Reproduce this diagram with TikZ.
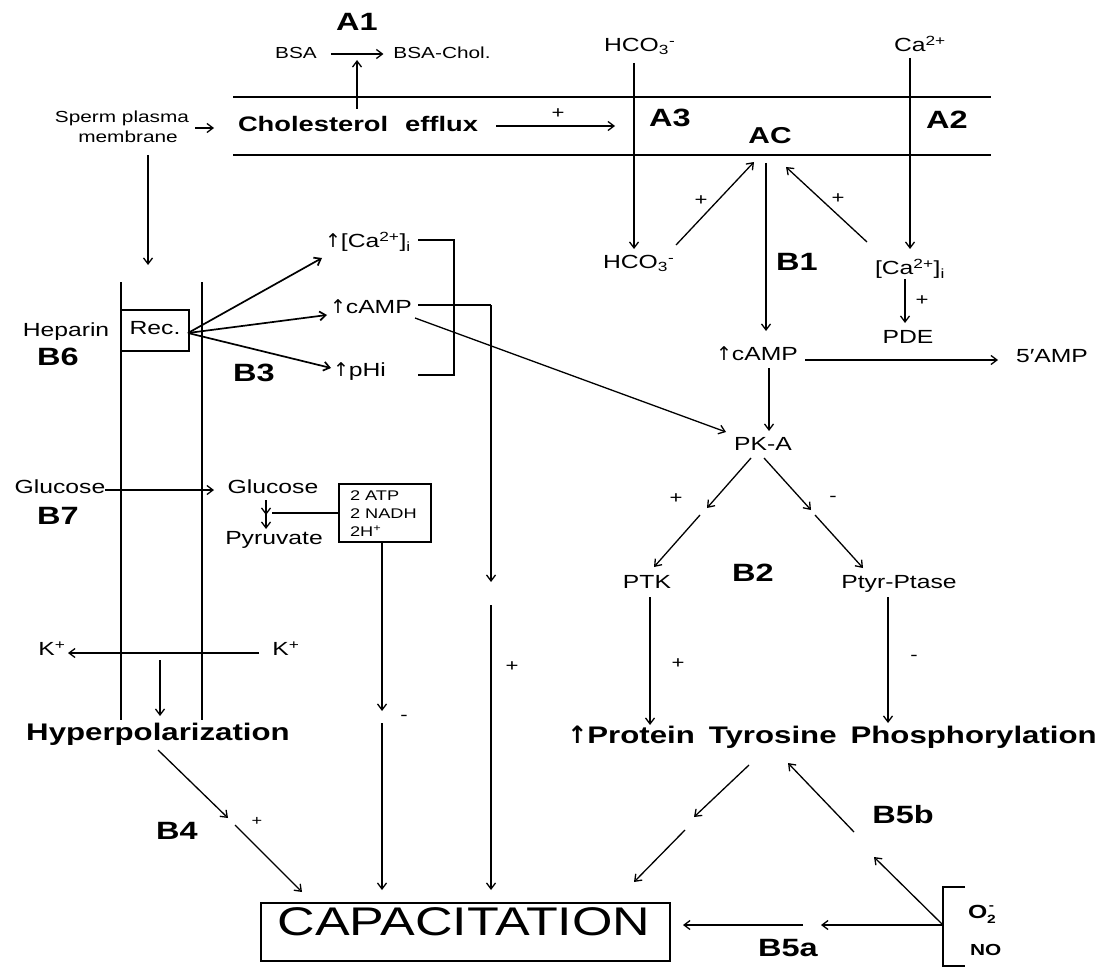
\documentclass[tikz,border=0pt]{standalone}
\usepackage{fontspec}
\setmainfont[FakeStretch=1.3]{Liberation Sans}
\newfontfamily\dvs{DejaVu Sans}
\usetikzlibrary{arrows.meta}
\newcommand{\up}{{\dvs\char"2191}}
\begin{document}
\begin{tikzpicture}[x=1pt,y=-1pt,
 every node/.style={inner sep=0pt, outer sep=0pt, text height=0.72em, text depth=0pt},
 txt/.style={font=\fontsize{19}{19}\selectfont},
 small/.style={font=\fontsize{16}{16}\selectfont},
 tiny/.style={font=\fontsize{14}{14}\selectfont, anchor=west},
 lab/.style={font=\fontsize{25}{25}\selectfont\bfseries},
 big/.style={font=\fontsize{24}{24}\selectfont\bfseries},
 arr/.style={draw, line width=1.3pt, -{Straight Barb[length=6pt,width=9pt]}},
 thickarr/.style={arr, line width=1.7pt},
 ln/.style={draw, line width=1.3pt},
 sgn/.style={font=\fontsize{17}{17}\selectfont}]
\useasboundingbox (0,0) rectangle (1115,968);
\fill[white] (0,0) rectangle (1115,968);

% ---------- top: A1, BSA ----------
\node[lab] (A1) at (357,27) {A1};
\node[small] (bsa) at (296,55) {BSA};
\node[small] (bsach) at (442,55) {BSA-Chol.};
\draw[arr] ([xshift=14pt,yshift=1pt]bsa.east) -- ([xshift=-10pt,yshift=1pt]bsach.west);
\coordinate (effup) at (357,109);
\coordinate (efftop) at (357,60);
\draw[arr] (effup) -- (efftop);

% membrane
\coordinate (m1l) at (233,97);  \coordinate (m1r) at (991,97);
\coordinate (m2l) at (233,155); \coordinate (m2r) at (991,155);
\draw[ln] (m1l) -- (m1r);
\draw[ln] (m2l) -- (m2r);

\node[small] (spm1) at (122,119) {Sperm plasma};
\node[small] (spm2) at (128,139) {membrane};
\node[font=\fontsize{21}{21}\selectfont\bfseries] (chol) at (358,128) {Cholesterol\hspace{17pt}efflux};
\coordinate (spa) at (195,128);
\coordinate (spb) at (214,128);
\draw[arr] (spa) -- (spb);
\coordinate (a3w) at (615,126);
\draw[arr] (496,126) -- (a3w);
\node[sgn] (p1) at (558,115) {+};

\node[txt, anchor=west] (hco3t) at (604,48) {HCO\textsubscript{3}\textsuperscript{-}};
\node[txt, anchor=west] (cat) at (894,48) {Ca\textsuperscript{2+}};
\node[lab] (A3) at (670,123) {A3};
\node[lab] (A2) at (947,125) {A2};
\node[lab, font=\fontsize{23}{23}\selectfont\bfseries] (AC) at (770,140) {AC};

\node[txt, anchor=west] (hco3b) at (603,265) {HCO\textsubscript{3}\textsuperscript{-}};
\node[txt, anchor=west] (cai) at (875,271) {[Ca\textsuperscript{2+}]\textsubscript{i}};
\coordinate (hco3in) at (634,63);
\coordinate (hco3out) at (634,249);
\draw[arr] (hco3in) -- (hco3out);
\coordinate (cain) at (910,58);
\coordinate (caout) at (910,249);
\draw[arr] (cain) -- (caout);

\draw[arr] (676,245) -- (754,162);
\node[sgn] at (701,202) {+};
\draw[arr] (867,242) -- (786,167);
\node[sgn] at (838,200) {+};

\node[lab] (B1) at (797,267) {B1};
\node[txt, anchor=west] (camp2) at (716,357) {\up cAMP};
\draw[arr] (766,163) -- (766,331);
\node[txt] (pde) at (908,340) {PDE};
\draw[arr] (905,279) -- (905,323);
\node[sgn] at (922,302) {+};
\node[txt] (amp5) at (1052,359) {5′AMP};
\draw[arr] (805,360) -- (998,360);
\node[txt] (pka) at (763,447) {PK-A};
\draw[arr] (769,368) -- (769,431);

% ---------- left cell ----------
\draw[arr] (148,155) -- (148,265);
\coordinate (c1t) at (121,282); \coordinate (c1b) at (121,720);
\coordinate (c2t) at (202,282); \coordinate (c2b) at (202,720);
\draw[ln] (c1t) -- (c1b);
\draw[ln] (c2t) -- (c2b);
\node[draw, line width=1.3pt, minimum width=68pt, minimum height=41pt] (rec) at (155,330.5) {};
\node[txt] (rect) at (155,331) {Rec.};
\node[txt] (hep) at (66,333) {Heparin};
\node[lab] (B6) at (58,362) {B6};
\node[lab] (B3) at (254,378) {B3};

\node[txt, anchor=west] (ca1) at (325,244) {\up[Ca\textsuperscript{2+}]\textsubscript{i}};
\node[txt, anchor=west] (camp1) at (330,310) {\up cAMP};
\node[txt, anchor=west] (phi) at (333,373) {\up pHi};
\coordinate (recout) at (188,333);
\draw[thickarr] (recout) -- (322,258);
\draw[thickarr] (recout) -- (327,315);
\draw[thickarr] (recout) -- (331,368);
\draw[ln] (418,240) -- (454,240) -- (454,375) -- (418,375);
\draw[ln] (418,305) -- (491,305);
\draw[arr] (491,305) -- (491,582);
\draw[arr] (491,605) -- (491,890);
\node[sgn] at (512,668) {+};
\draw[arr] (415,318) -- (726,432);

% glucose
\node[txt] (glu1) at (60,490) {Glucose};
\node[lab] (B7) at (58,521) {B7};
\node[txt] (glu2) at (273,490) {Glucose};
\draw[arr] (glu1.east) -- (214,490);
\node[txt] (pyr) at (274,541) {Pyruvate};
\draw[arr] (266,500) -- (266,515);
\draw[arr] (266,513) -- (266,529);
\node[draw, line width=1.3pt, minimum width=92pt, minimum height=58pt] (atp) at (385,513) {};
\node[tiny] (atp1) at (350,497) {2 ATP};
\node[tiny] (atp2) at (350,515) {2 NADH};
\node[tiny] (atp3) at (350,533) {2H\textsuperscript{+}};
\draw[ln] (272,513) -- (atp.west |- 0,513);
\draw[arr] (382,542) -- (382,711);
\node[sgn] at (404,717) {-};
\draw[arr] (382,723) -- (382,890);

% K+
\node[txt] (k1) at (52,652) {K\textsuperscript{+}};
\node[txt] (k2) at (286,652) {K\textsuperscript{+}};
\draw[arr] (259,653) -- (68,653);
\draw[arr] (160,660) -- (160,716);
\node[big] (hyp) at (158,737) {Hyperpolarization};
\draw[arr] (158,750) -- (228,818);
\node[sgn, font=\fontsize{14}{14}\selectfont] at (257,822) {+};
\draw[arr] (235,825) -- (302,892);
\node[lab] (B4) at (177,836) {B4};

% ---------- right lower ----------
\node[txt] (ptk) at (647,585) {PTK};
\node[lab] (B2) at (753,578) {B2};
\node[txt] (ptp) at (899,585) {Ptyr-Ptase};
\draw[arr] (751,458) -- (707,508);
\node[sgn] at (676,500) {+};
\draw[arr] (700,515) -- (654,567);
\draw[arr] (764,458) -- (811,510);
\node[sgn] at (833,498) {-};
\draw[arr] (815,515) -- (863,568);
\draw[arr] (650,597) -- (650,725);
\node[sgn] at (678,665) {+};
\draw[arr] (888,597) -- (888,723);
\node[sgn] at (914,657) {-};
\node[big] (ptph) at (832,740) {\up Protein\hspace{14pt}Tyrosine\hspace{14pt}Phosphorylation};

\draw[arr] (749,765) -- (694,817);
\draw[arr] (685,830) -- (634,882);
\node[lab] (B5b) at (903,820) {B5b};
\draw[arr] (854,832) -- (788,763);
\coordinate (brk) at (943,925);
\draw[arr] (brk) -- (874,857);

% capacitation
\node[draw, line width=1.3pt, minimum width=409pt, minimum height=58pt] (cap) at (465.5,932) {};
\node[font=\fontsize{40}{40}\selectfont] (capt) at (464,932) {CAPACITATION};
\draw[ln] (965,887) -- (943,887) -- (943,966) -- (965,966);
\node[txt, anchor=west, font=\fontsize{19}{19}\selectfont\bfseries] (o2) at (968,915) {O\raisebox{-5pt}{\fontsize{12}{12}\selectfont 2}\hspace{-7pt}\raisebox{9pt}{\fontsize{12}{12}\selectfont -}};
\node[small, anchor=west, font=\fontsize{16}{16}\selectfont\bfseries] (no) at (970,952) {NO};
\draw[arr] (brk) -- (821,925);
\draw[arr] (803,925) -- (683,925);
\node[lab] (B5a) at (788,953) {B5a};
\end{tikzpicture}
\end{document}
